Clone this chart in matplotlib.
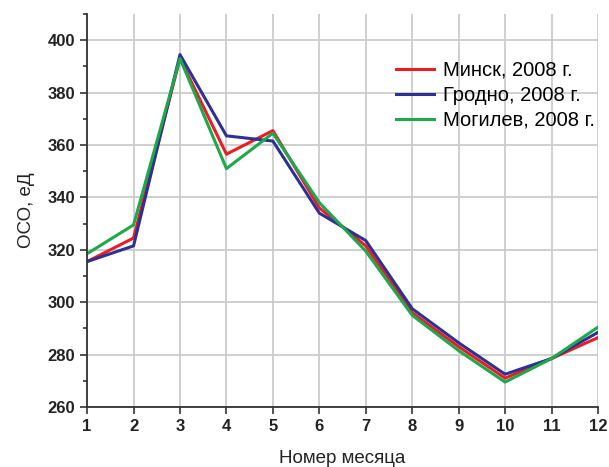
import numpy as np
import matplotlib.pyplot as plt
from matplotlib.ticker import MultipleLocator

plt.rcParams['font.family'] = ['Liberation Sans', 'DejaVu Sans']

months = np.arange(1, 13)
minsk = [315.5, 324.5, 393, 356.5, 365.5, 336, 321.5, 296, 283, 271, 278.5, 286.5]
grodno = [315.5, 321.5, 394.5, 363.5, 361.5, 334, 323.5, 297.5, 284.5, 272.5, 278.5, 288.5]
mogilev = [318.5, 329.5, 393, 351, 364.5, 338, 319.5, 295, 281.5, 269.5, 278.5, 290.5]
labels = ['Минск, 2008 г.', 'Гродно, 2008 г.', 'Могилев, 2008 г.']

fig = plt.figure(figsize=(6.09, 4.67), dpi=100)
ax = fig.add_axes([0.143, 0.1285, 0.839, 0.8415])

ax.plot(months, minsk, color='#ED1C24', lw=2.2, label=labels[0])
ax.plot(months, grodno, color='#2E3192', lw=2.2, label=labels[1])
ax.plot(months, mogilev, color='#1DA84A', lw=2.2, label=labels[2])

ax.set_xlim(1, 12)
ax.set_ylim(260, 410)
ax.set_xticks(months)
ax.set_yticks(np.arange(260, 401, 20))
ax.yaxis.set_minor_locator(MultipleLocator(10))
ax.grid(True, color='#CCCCCC', lw=1.3)
ax.set_axisbelow(True)

for s in ['top', 'right']:
    ax.spines[s].set_visible(False)
for s in ['left', 'bottom']:
    ax.spines[s].set_color('#333333')
    ax.spines[s].set_linewidth(1.3)

ax.tick_params(which='major', length=5, width=1.2, color='#333333', labelsize=12)
ax.tick_params(which='minor', length=3, width=1.2, color='#333333')
for t in ax.get_xticklabels() + ax.get_yticklabels():
    t.set_fontweight('bold')
    t.set_color('#222222')

ax.set_xlabel('Номер месяца', fontsize=13.5, color='#222222', labelpad=12)
ax.set_ylabel('ОСО, еД', fontsize=13.5, color='#222222', labelpad=9)

ax.legend(loc='upper right', bbox_to_anchor=(1.01, 0.902), frameon=False,
          fontsize=14.5, handlelength=1.9, handletextpad=0.45, labelspacing=0.3,
          borderaxespad=0.0)

fig.savefig('out.png', dpi=100)
